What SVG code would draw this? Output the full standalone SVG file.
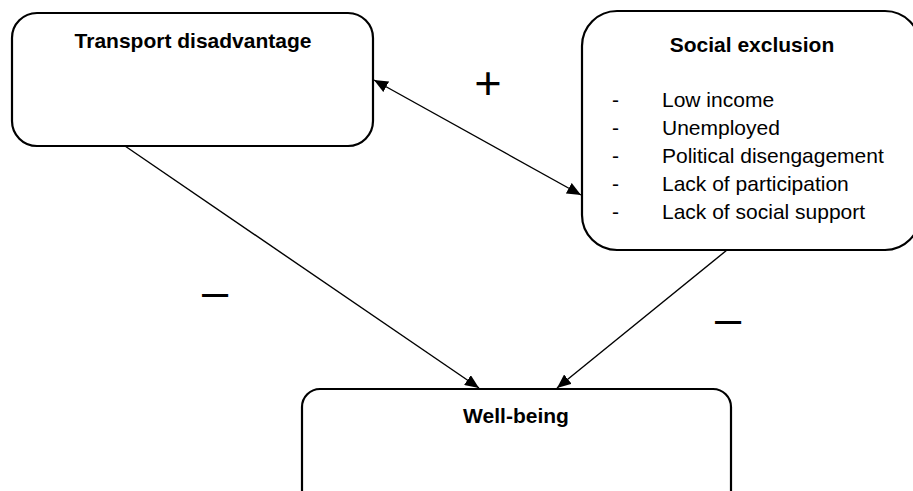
<svg xmlns="http://www.w3.org/2000/svg" width="913" height="491" viewBox="0 0 913 491">
<style>
.box{fill:#fff;stroke:#000;stroke-width:2.2}
.title{font-family:"Liberation Sans",Arial,sans-serif;font-size:21px;font-weight:bold;text-anchor:middle;fill:#000}
.item{font-family:"Liberation Sans",Arial,sans-serif;font-size:21px;fill:#000}
.sign{font-family:"Liberation Sans",Arial,sans-serif;font-size:47px;fill:#000}
.conn{stroke:#000;stroke-width:1.4;fill:none}
</style>
<defs>
<marker id="ah" viewBox="0 0 14 12" refX="14" refY="6" markerWidth="14" markerHeight="12" markerUnits="userSpaceOnUse" orient="auto-start-reverse">
<path d="M0,0 L14,6 L0,12 Z" fill="#000"/>
</marker>
</defs>
<rect width="913" height="491" fill="#fff"/>
<g id="transport">
<rect class="box" x="12" y="13" width="361" height="133" rx="25" ry="25"/>
<text class="title" x="193" y="48">Transport disadvantage</text>
</g>
<g id="social">
<rect class="box" x="582" y="11" width="338" height="239" rx="35" ry="35"/>
<text class="title" x="752" y="52">Social exclusion</text>
<text class="item" x="612" y="107">-</text><text class="item" x="662" y="107">Low income</text>
<text class="item" x="612" y="135">-</text><text class="item" x="662" y="135">Unemployed</text>
<text class="item" x="612" y="163">-</text><text class="item" x="662" y="163">Political disengagement</text>
<text class="item" x="612" y="191">-</text><text class="item" x="662" y="191">Lack of participation</text>
<text class="item" x="612" y="219">-</text><text class="item" x="662" y="219">Lack of social support</text>
</g>
<g id="wellbeing">
<rect class="box" x="302" y="389" width="429" height="130" rx="18" ry="18"/>
<text class="title" x="516" y="423">Well-being</text>
</g>
<g id="connectors">
<line class="conn" x1="374" y1="80" x2="581" y2="195" marker-start="url(#ah)" marker-end="url(#ah)"/>
<line class="conn" x1="125" y1="146" x2="479" y2="388" marker-end="url(#ah)"/>
<line class="conn" x1="727" y1="250" x2="557" y2="388" marker-end="url(#ah)"/>
<text class="sign" x="488" y="99" text-anchor="middle">+</text>
<text class="sign" x="202" y="307">–</text>
<text class="sign" x="715" y="334">–</text>
</g>
</svg>
